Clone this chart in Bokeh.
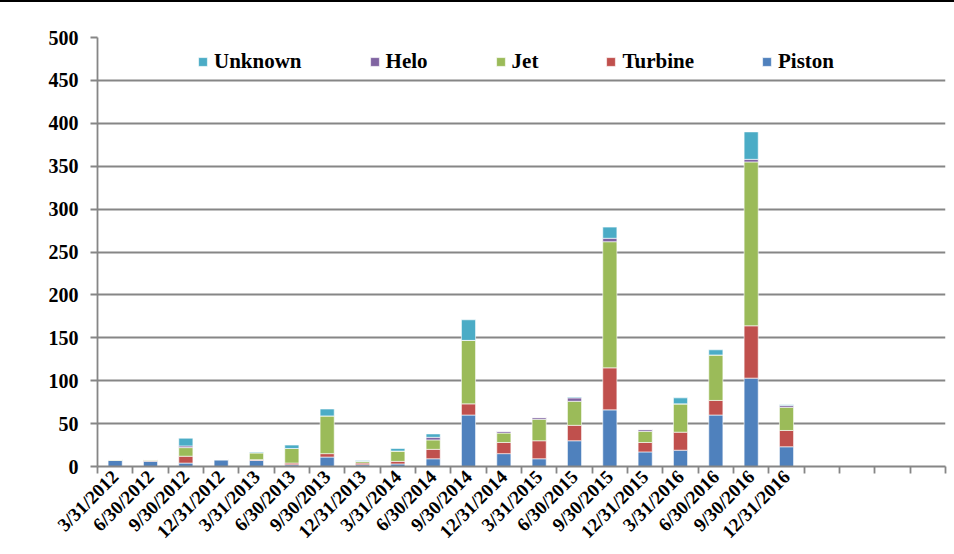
import math
from bokeh.plotting import figure
from bokeh.layouts import column
from bokeh.models import Range1d, FixedTicker, Legend, LegendItem, Div
from bokeh.embed import file_html
from bokeh.resources import INLINE

quarters = ["3/31/2012", "6/30/2012", "9/30/2012", "12/31/2012",
            "3/31/2013", "6/30/2013", "9/30/2013", "12/31/2013",
            "3/31/2014", "6/30/2014", "9/30/2014", "12/31/2014",
            "3/31/2015", "6/30/2015", "9/30/2015", "12/31/2015",
            "3/31/2016", "6/30/2016", "9/30/2016", "12/31/2016"]
n_slots = 24  # 4 empty trailing slots on the axis

piston  = [7, 6, 4, 8, 7, 2, 11, 2, 3, 9, 60, 15, 9, 30, 66, 17, 19, 60, 103, 23]
turbine = [0, 1, 8, 0, 1, 2, 4, 2, 3, 11, 13, 13, 21, 18, 49, 11, 21, 17, 61, 19]
jet     = [1, 1, 10, 0, 8, 17, 44, 2, 12, 11, 74, 11, 25, 28, 147, 13, 33, 53, 191, 27]
helo    = [0, 0, 2, 0, 0, 0, 0, 0, 0, 3, 0, 2, 2, 4, 4, 2, 0, 0, 3, 2]
unknown = [0, 0, 9, 0, 1, 4, 8, 1, 3, 4, 24, 0, 0, 1, 13, 0, 7, 6, 32, 1]

series = ["Piston", "Turbine", "Jet", "Helo", "Unknown"]
colors = ["#4F81BD", "#C0504D", "#9BBB59", "#8064A2", "#4BACC6"]
y_ticks = list(range(0, 501, 50))

FONT = "Liberation Serif"
GRAY = "#868686"

x = list(range(len(quarters)))
data = dict(x=x, Piston=piston, Turbine=turbine, Jet=jet, Helo=helo, Unknown=unknown)

p = figure(width=954, height=552, output_backend="svg", toolbar_location=None,
           x_range=Range1d(-0.5, n_slots - 0.5), y_range=Range1d(0, 500),
           min_border_left=97, min_border_right=9, min_border_top=35,
           min_border_bottom=88, margin=0)
p.outline_line_color = None

rs = p.vbar_stack(series, x="x", width=0.4, source=data, color=colors,
                  line_color="white", line_alpha=0.6, line_width=1)

# axes
p.xaxis.ticker = FixedTicker(ticks=x, minor_ticks=[i - 0.5 for i in range(n_slots + 1)])
p.xaxis.major_label_overrides = {i: q for i, q in enumerate(quarters)}
p.xaxis.major_label_orientation = math.pi / 4
p.xaxis.major_tick_line_color = None
p.xaxis.major_tick_out = 7
p.xaxis.major_tick_in = 0
p.xaxis.minor_tick_line_color = GRAY
p.xaxis.minor_tick_line_width = 1.8
p.xaxis.minor_tick_out = 7
p.xaxis.minor_tick_in = 0
p.xaxis.major_label_standoff = 0

p.yaxis.ticker = FixedTicker(ticks=y_ticks, minor_ticks=[])
p.yaxis.major_tick_line_color = GRAY
p.yaxis.major_tick_line_width = 1.8
p.yaxis.major_tick_out = 7
p.yaxis.major_tick_in = 0
p.yaxis.minor_tick_line_color = None
p.yaxis.major_label_standoff = 12

for ax in (p.xaxis, p.yaxis):
    ax.axis_line_color = GRAY
    ax.axis_line_width = 1.8
    ax.major_label_text_font = FONT
    ax.major_label_text_font_style = "bold"
    ax.major_label_text_color = "black"
    ax.major_label_text_font_size = "20px"
p.xaxis.major_label_text_font_size = "19px"

p.xgrid.grid_line_color = None
p.ygrid.ticker = FixedTicker(ticks=y_ticks)
p.ygrid.grid_line_color = GRAY
p.ygrid.grid_line_width = 1.8

# legend (order: Unknown, Helo, Jet, Turbine, Piston)
items = [LegendItem(label=series[i], renderers=[rs[i]]) for i in [4, 3, 2, 1, 0]]
legend = Legend(items=items, orientation="horizontal", location=(100, 392),
                padding=0, margin=0, spacing=67, label_standoff=6,
                glyph_width=11, glyph_height=11, label_height=24,
                label_text_font=FONT, label_text_font_style="bold",
                label_text_font_size="21px", label_text_color="black",
                background_fill_alpha=0, border_line_color=None)
p.add_layout(legend, "center")

top_rule = Div(width=954, height=2, margin=0, styles={"background-color": "black"})
layout = column(top_rule, p, spacing=0, margin=0)

open("out.html", "w").write(file_html(layout, INLINE))
